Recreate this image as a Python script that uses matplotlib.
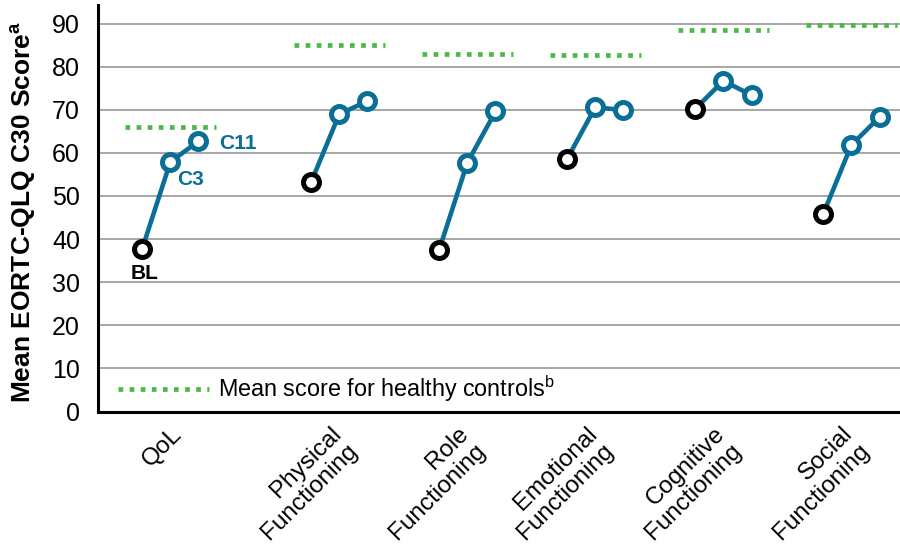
import numpy as np
import matplotlib
matplotlib.use("Agg")
import matplotlib.pyplot as plt
from matplotlib.lines import Line2D

plt.rcParams['font.family'] = ['Liberation Sans', 'DejaVu Sans']
plt.rcParams['mathtext.fontset'] = 'custom'
plt.rcParams['mathtext.rm'] = 'Liberation Sans'
plt.rcParams['mathtext.bf'] = 'Liberation Sans:bold'
plt.rcParams['mathtext.it'] = 'Liberation Sans:italic'

# ---- data ----
categories = ["QoL", "Physical\nFunctioning", "Role\nFunctioning",
              "Emotional\nFunctioning", "Cognitive\nFunctioning", "Social\nFunctioning"]
baseline = [37.7, 53.2, 37.5, 58.6, 70.2, 45.8]
cycle3 = [57.9, 69.0, 57.7, 70.6, 76.7, 61.8]
cycle11 = [62.7, 72.0, 69.6, 69.9, 73.4, 68.3]
healthy = [66.0, 85.0, 83.0, 82.7, 88.5, 89.7]
timepoint_labels = ["BL", "C3", "C11"]
yticks = list(range(0, 100, 10))

# ---- style ----
teal = "#0A6E96"
green = "#4DB848"
grid_c = "#A6A6A6"

W, H = 900, 554
fig = plt.figure(figsize=(W/100, H/100), dpi=100)
ax_left, ax_bottom_px, ax_top_px = 98, 411.5, 5
ax = fig.add_axes([ax_left/W, 1-ax_bottom_px/H, 1-ax_left/W, (ax_bottom_px-ax_top_px)/H])
ax_w = W - ax_left
ax_h = ax_bottom_px - ax_top_px

n = len(categories)
idx = np.arange(n)
group_x = idx * 1.0 + np.where(idx > 0, 0.32, 0.0)
offsets = np.array([0.0, 0.22, 0.44])

ax.set_xlim(-0.345, 5.92)
ax.set_ylim(0, 94.3)

for v in yticks[1:]:
    ax.axhline(v, color=grid_c, lw=1.4, zorder=1)

ms = 11.5
mew = 3.6
for i in range(n):
    xs = group_x[i] + offsets
    ys = [baseline[i], cycle3[i], cycle11[i]]
    ax.plot(xs, ys, color=teal, lw=3.3, zorder=3, solid_capstyle='round')
    ax.plot(xs[1:], ys[1:], linestyle='none', marker='o', ms=ms, mew=mew,
            mec=teal, mfc='white', zorder=4)
    ax.plot(xs[:1], ys[:1], linestyle='none', marker='o', ms=ms, mew=mew,
            mec='black', mfc='white', zorder=5)
    hc = group_x[i] + offsets[1]
    ax.plot([hc-0.355, hc+0.355], [healthy[i], healthy[i]], color=green, lw=3.4,
            dashes=(1.0, 1.35), dash_capstyle='butt', zorder=2)

# point labels for first group
x0 = group_x[0] + offsets
ax.annotate(timepoint_labels[0], (x0[0], baseline[0]), xytext=(1.5, -18), textcoords='offset points',
            ha='center', va='center', fontsize=15, fontweight='bold', color='black')
ax.annotate(timepoint_labels[1], (x0[1], cycle3[0]), xytext=(14.5, -13), textcoords='offset points',
            ha='center', va='center', fontsize=15, fontweight='bold', color=teal)
ax.annotate(timepoint_labels[2], (x0[2], cycle11[0]), xytext=(28, -2), textcoords='offset points',
            ha='center', va='center', fontsize=15, fontweight='bold', color=teal)

# axes styling
for s in ['top', 'right']:
    ax.spines[s].set_visible(False)
for s in ['left', 'bottom']:
    ax.spines[s].set_linewidth(2.2)
    ax.spines[s].set_color('black')
ax.set_yticks(yticks)
ax.set_yticklabels([str(v) for v in yticks], fontsize=18)
ax.tick_params(axis='y', length=0, pad=13)
label_x = group_x + offsets[1] + np.where(idx == 0, 0.005, -0.075)
ax.set_xticks(label_x)
ax.set_xticklabels(categories, fontsize=17.5, rotation=45, ha='right', va='top',
                   rotation_mode='anchor', multialignment='right', linespacing=1.1)
ax.tick_params(axis='x', length=0, pad=8)

ax.set_ylabel(r"Mean EORTC-QLQ C30 Score$^{\mathbf{a}}$", fontsize=19, fontweight='bold')
ax.yaxis.set_label_coords((38 - ax_left) / ax_w, (ax_bottom_px - 212) / ax_h)

handle = Line2D([0], [0], color=green, lw=3.4, dashes=(1.0, 1.35), dash_capstyle='butt')
leg = ax.legend([handle], [r"Mean score for healthy controls$^{\mathrm{b}}$"], loc='center left',
                bbox_to_anchor=((118 - ax_left) / ax_w, (ax_bottom_px - 389) / ax_h),
                frameon=False, fontsize=16.8, handlelength=3.9,
                handletextpad=0.4, borderaxespad=0.0, borderpad=0.0)

fig.savefig("out.png", dpi=100)
